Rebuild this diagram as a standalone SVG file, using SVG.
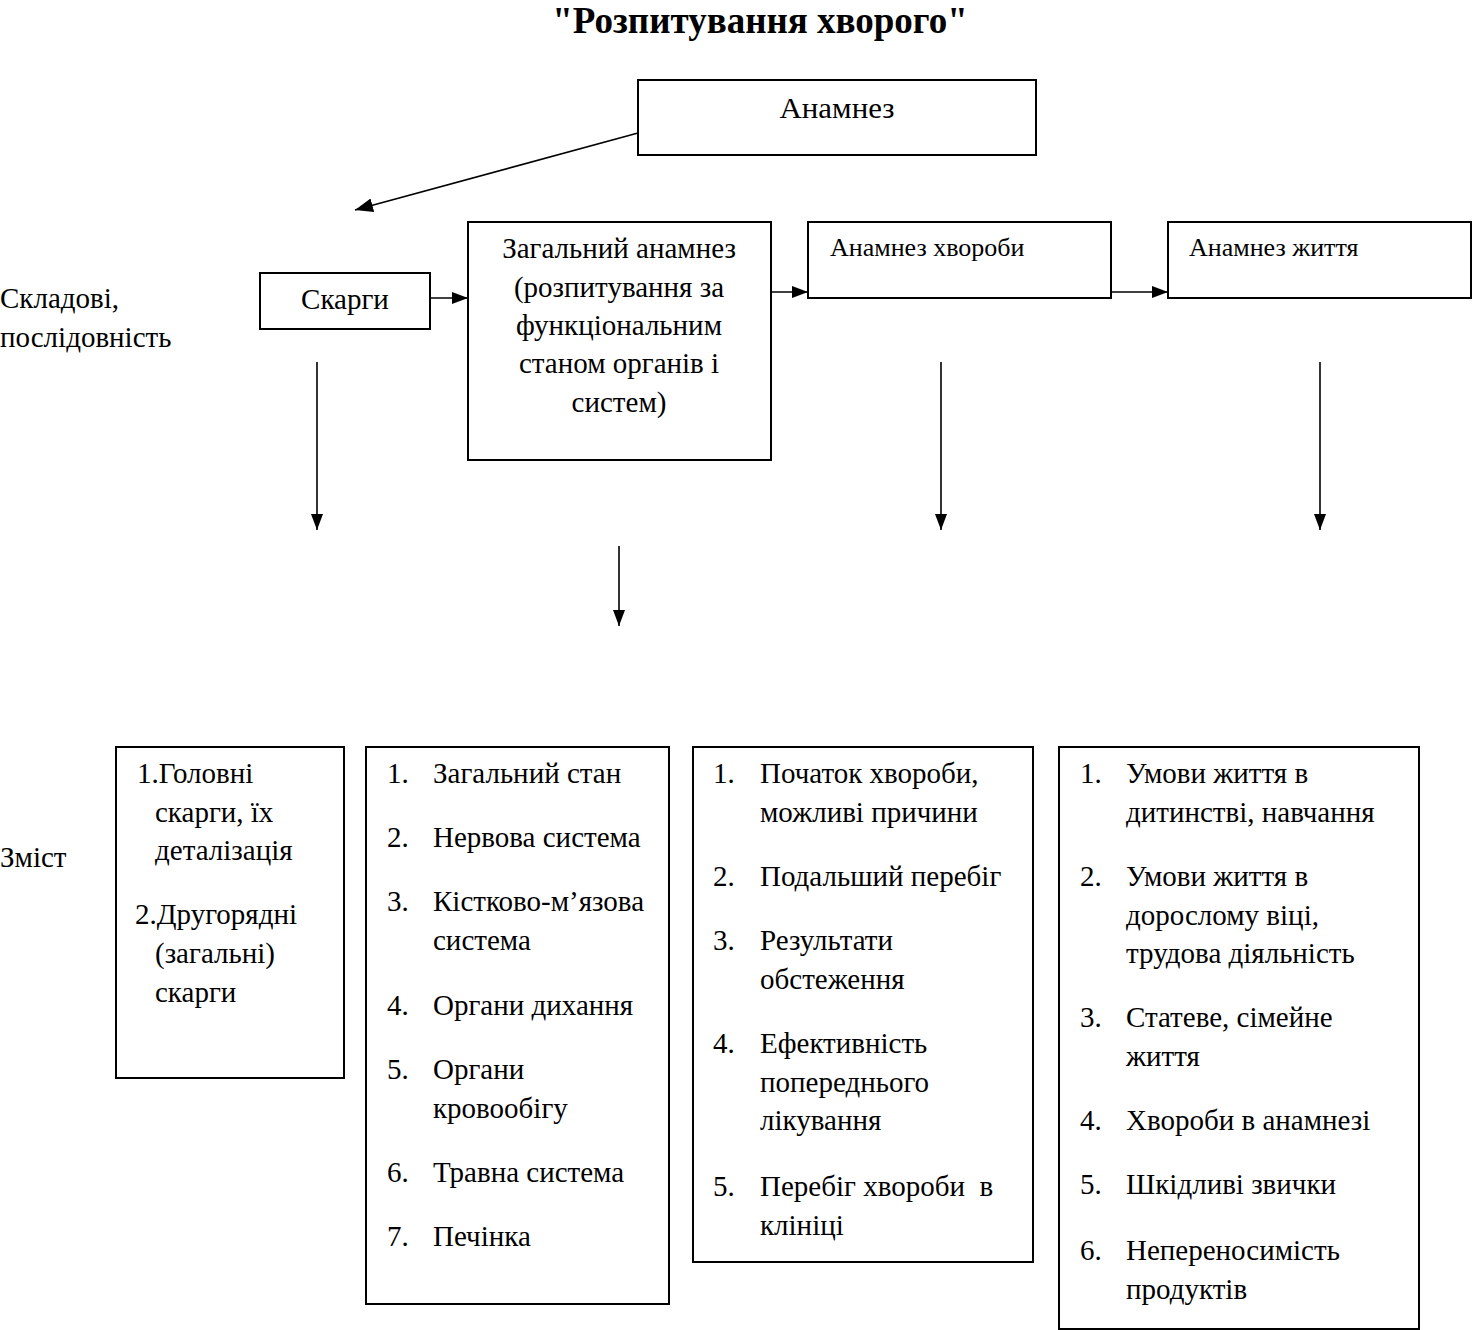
<svg xmlns="http://www.w3.org/2000/svg" width="1472" height="1330" viewBox="0 0 1472 1330">
<defs>
<marker id="ah" viewBox="0 0 16 12" refX="16" refY="6" markerWidth="16" markerHeight="12" markerUnits="userSpaceOnUse" orient="auto">
<path d="M0,0 L16,6 L0,12 z" fill="#000"/>
</marker>
<marker id="ahl" viewBox="0 0 18 14" refX="18" refY="7" markerWidth="18" markerHeight="14" markerUnits="userSpaceOnUse" orient="auto">
<path d="M0,0 L18,7 L0,14 z" fill="#000"/>
</marker>
</defs>
<style>
text{font-family:"Liberation Serif","Times New Roman",serif;fill:#000;font-size:29px}
text.sm{font-size:26px}
.box{fill:#fff;stroke:#000;stroke-width:2}
.c{text-anchor:middle}
.ln{stroke:#000;stroke-width:1.6;fill:none}
text.title{font-weight:bold;font-size:37px}
</style>
<rect width="1472" height="1330" fill="#fff"/>
<text class="title c" x="760" y="33">"Розпитування хворого"</text>
<text x="0" y="308">Складові,</text>
<text x="0" y="347">послідовність</text>
<text x="0" y="867">Зміст</text>

<g id="connectors">
<line class="ln" x1="638" y1="133" x2="355" y2="210" stroke-width="2.5" marker-end="url(#ahl)"/>
<line class="ln" x1="430" y1="298" x2="468" y2="298" marker-end="url(#ah)"/>
<line class="ln" x1="771" y1="292" x2="808" y2="292" marker-end="url(#ah)"/>
<line class="ln" x1="1111" y1="292" x2="1168" y2="292" marker-end="url(#ah)"/>
<line class="ln" x1="317" y1="362" x2="317" y2="530" marker-end="url(#ah)"/>
<line class="ln" x1="941" y1="362" x2="941" y2="530" marker-end="url(#ah)"/>
<line class="ln" x1="1320" y1="362" x2="1320" y2="530" marker-end="url(#ah)"/>
<line class="ln" x1="619" y1="546" x2="619" y2="626" marker-end="url(#ah)"/>
</g>

<g id="anamnez">
<rect class="box" x="638" y="80" width="398" height="75"/>
<text class="c" x="837" y="118" textLength="115" lengthAdjust="spacingAndGlyphs">Анамнез</text>
</g>
<g id="skargy">
<rect class="box" x="260" y="273" width="170" height="56"/>
<text class="c" x="345" y="309">Скарги</text>
</g>
<g id="zagalnyi">
<rect class="box" x="468" y="222" width="303" height="238"/>
<text class="c" x="619" y="258">Загальний анамнез</text>
<text class="c" x="619" y="297">(розпитування за</text>
<text class="c" x="619" y="335">функціональним</text>
<text class="c" x="619" y="373">станом органів і</text>
<text class="c" x="619" y="412">систем)</text>
</g>
<g id="khvoroby">
<rect class="box" x="808" y="222" width="303" height="76"/>
<text class="sm" x="830" y="256">Анамнез хвороби</text>
</g>
<g id="zhyttia">
<rect class="box" x="1168" y="222" width="303" height="76"/>
<text class="sm" x="1189" y="256">Анамнез життя</text>
</g>

<g id="content-skargy">
<rect class="box" x="116" y="747" width="228" height="331"/>
<text x="137" y="783">1.Головні</text>
<text x="155" y="822">скарги, їх</text>
<text x="155" y="860">деталізація</text>
<text x="135" y="924">2.Другорядні</text>
<text x="155" y="963">(загальні)</text>
<text x="155" y="1002">скарги</text>
</g>
<g id="content-zagalnyi">
<rect class="box" x="366" y="747" width="303" height="557"/>
<text x="387" y="783">1.</text><text x="433" y="783">Загальний стан</text>
<text x="387" y="847">2.</text><text x="433" y="847">Нервова система</text>
<text x="387" y="911">3.</text><text x="433" y="911">Кістково-м’язова</text>
<text x="433" y="950">система</text>
<text x="387" y="1015">4.</text><text x="433" y="1015">Органи дихання</text>
<text x="387" y="1079">5.</text><text x="433" y="1079">Органи</text>
<text x="433" y="1118">кровообігу</text>
<text x="387" y="1182">6.</text><text x="433" y="1182">Травна система</text>
<text x="387" y="1246">7.</text><text x="433" y="1246">Печінка</text>
</g>
<g id="content-khvoroby">
<rect class="box" x="693" y="747" width="340" height="515"/>
<text x="713" y="783">1.</text><text x="760" y="783">Початок хвороби,</text>
<text x="760" y="822">можливі причини</text>
<text x="713" y="886">2.</text><text x="760" y="886">Подальший перебіг</text>
<text x="713" y="950">3.</text><text x="760" y="950">Результати</text>
<text x="760" y="989">обстеження</text>
<text x="713" y="1053">4.</text><text x="760" y="1053">Ефективність</text>
<text x="760" y="1092">попереднього</text>
<text x="760" y="1130">лікування</text>
<text x="713" y="1196">5.</text><text x="760" y="1196" style="white-space:pre">Перебіг хвороби  в</text>
<text x="760" y="1235">клініці</text>
</g>
<g id="content-zhyttia">
<rect class="box" x="1059" y="747" width="360" height="582"/>
<text x="1080" y="783">1.</text><text x="1126" y="783">Умови життя в</text>
<text x="1126" y="822">дитинстві, навчання</text>
<text x="1080" y="886">2.</text><text x="1126" y="886">Умови життя в</text>
<text x="1126" y="925">дорослому віці,</text>
<text x="1126" y="963">трудова діяльність</text>
<text x="1080" y="1027">3.</text><text x="1126" y="1027">Статеве, сімейне</text>
<text x="1126" y="1066">життя</text>
<text x="1080" y="1130">4.</text><text x="1126" y="1130">Хвороби в анамнезі</text>
<text x="1080" y="1194">5.</text><text x="1126" y="1194">Шкідливі звички</text>
<text x="1080" y="1260">6.</text><text x="1126" y="1260">Непереносимість</text>
<text x="1126" y="1299">продуктів</text>
</g>
</svg>
